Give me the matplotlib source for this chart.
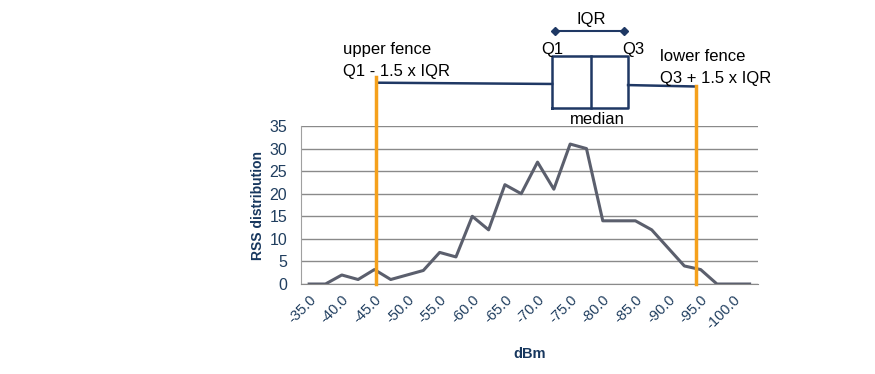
import matplotlib
matplotlib.use("Agg")
import matplotlib.pyplot as plt

plt.rcParams['font.family'] = ['Liberation Sans', 'DejaVu Sans']

# RSS histogram, one category per 2.5 dBm
dbm = [-35.0, -37.5, -40.0, -42.5, -45.0, -47.5, -50.0, -52.5, -55.0, -57.5,
       -60.0, -62.5, -65.0, -67.5, -70.0, -72.5, -75.0, -77.5, -80.0, -82.5,
       -85.0, -87.5, -90.0, -92.5, -95.0, -97.5, -100.0, -102.5]
rss = [0, 0, 2, 1, 3.2, 1, 2, 3, 7, 6,
       15, 12, 22, 20, 27, 21, 31, 30, 14, 14,
       14, 12, 8, 4, 3.2, 0, 0, 0]
yticks = [0, 5, 10, 15, 20, 25, 30, 35]

# box-plot sketch above the chart (positions in category units)
fence_low = 4.1
fence_high = 23.7
q1 = 14.9
median = 17.3
q3 = 19.55

navy = '#1F3864'
orange = '#F5A11C'
label_col = '#203E5F'

fig = plt.figure(figsize=(8.75, 3.74), dpi=100)
ax = fig.add_axes([0.344, 0.2406, 0.522, 0.4225])

idx = list(range(len(dbm)))
ax.plot(idx, rss, color='#5B5F6D', lw=2.2, zorder=3)

ax.set_xlim(-0.5, len(dbm) - 0.5)
ax.set_ylim(0, 35)
ax.set_yticks(yticks)
ax.set_yticklabels([str(v) for v in yticks], fontsize=11.5, color=label_col)
ax.set_xticks(idx[::2])
ax.set_xticklabels([f'{v:.1f}' for v in dbm[::2]], rotation=45, ha='right',
                   rotation_mode='anchor', fontsize=10.5, color=label_col)
ax.tick_params(length=0)
ax.tick_params(axis='y', pad=10)
ax.tick_params(axis='x', pad=6)
ax.grid(axis='y', color='#8A8A8A', lw=1)
ax.set_axisbelow(True)
for s in ['top', 'right']:
    ax.spines[s].set_visible(False)
ax.spines['left'].set_color('#A0A0A0')
ax.spines['bottom'].set_color('#8A8A8A')

ax.set_ylabel('RSS distribution', fontsize=10, fontweight='bold', color='#17375E', labelpad=3)
ax.set_xlabel('dBm', fontsize=10.5, fontweight='bold', color='#17375E', labelpad=11)

tr = ax.get_xaxis_transform()
kw = dict(transform=tr, clip_on=False)

# fences
ax.plot([fence_low, fence_low], [0, 1.31], color=orange, lw=2.5, zorder=4, **kw)
ax.plot([fence_high, fence_high], [0, 1.253], color=orange, lw=2.5, zorder=4, **kw)

# whiskers
ax.plot([fence_low + 0.1, q1], [1.274, 1.266], color=navy, lw=1.8, **kw)
ax.plot([q3, fence_high], [1.259, 1.25], color=navy, lw=1.8, **kw)

# box
ax.plot([q1, q3, q3, q1, q1], [1.112, 1.112, 1.446, 1.446, 1.112], color=navy, lw=1.8, **kw)
ax.plot([median, median], [1.112, 1.446], color=navy, lw=1.8, **kw)

# IQR bracket
ax.plot([q1 + 0.2, q3 - 0.25], [1.601, 1.601], color=navy, lw=1.5,
        marker='D', markersize=4, **kw)

txt = dict(transform=tr, fontsize=12, color='black', clip_on=False)
ax.text(median, 1.671, 'IQR', ha='center', va='center', **txt)
ax.text(q1, 1.487, 'Q1', ha='center', va='center', **txt)
ax.text(q3 + 0.35, 1.481, 'Q3', ha='center', va='center', **txt)
ax.text(median + 0.35, 1.038, 'median', ha='center', va='center', **txt)
ax.text(2.09, 1.481, 'upper fence', ha='left', va='center', **txt)
ax.text(2.09, 1.348, 'Q1 - 1.5 x IQR', ha='left', va='center', **txt)
ax.text(21.5, 1.439, 'lower fence', ha='left', va='center', **txt)
ax.text(21.5, 1.302, 'Q3 + 1.5 x IQR', ha='left', va='center', **txt)

fig.savefig('out.png', dpi=100)
